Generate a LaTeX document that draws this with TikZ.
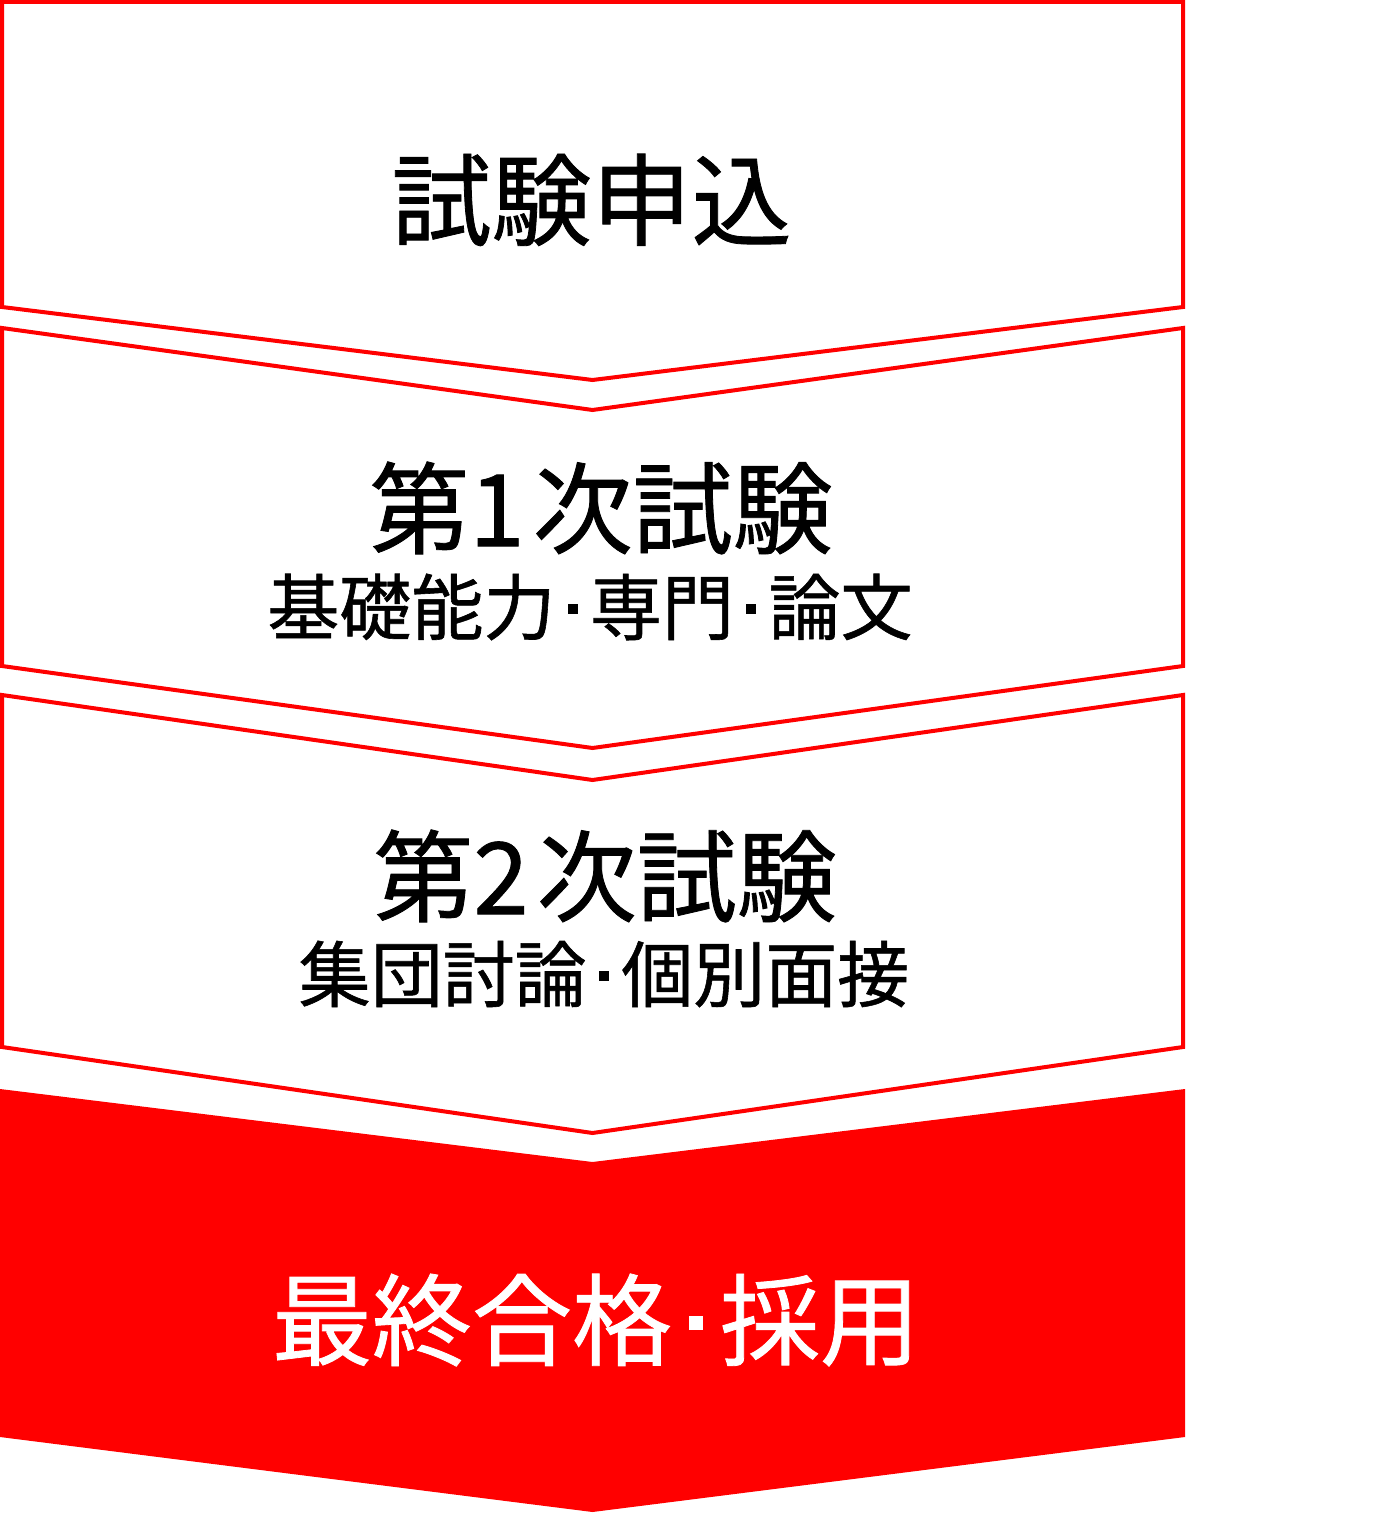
\documentclass[tikz,border=0pt]{standalone}
\usepackage{fontspec}
\newfontfamily\jp[FakeBold=0.8]{Noto Sans CJK JP}
\definecolor{flowred}{RGB}{255,0,0}
\newcommand{\nakaguro}{\hspace{0.17em}\rule[0.28em]{0.14em}{0.14em}\hspace{0.17em}}

\begin{document}
\begin{tikzpicture}[x=0.5pt, y=-0.5pt,
    stage/.style={draw=flowred, line width=2pt, fill=white},
    title/.style={font=\jp\fontsize{50}{56}\selectfont, inner sep=0pt},
    subtitle/.style={font=\jp\fontsize{36}{40}\selectfont, inner sep=0pt}]
    \useasboundingbox (0, 0) rectangle (1377, 1513);

    % First stage: flat top
    \draw[stage] (2, 2) -- (1183, 2) -- (1183, 307) -- (592.5, 380) -- (2, 307) -- cycle;

    % Middle stages
    \foreach \t/\tt/\b/\bt in {328/410/666/748, 695/780/1047/1133} {
        \draw[stage] (2, \t) -- (592.5, \tt) -- (1183, \t) -- (1183, \b) -- (592.5, \bt) -- (2, \b) -- cycle;
    }

    % Final stage
    \fill[flowred] (0, 1089) -- (592.5, 1162) -- (1185, 1089) -- (1185, 1437) -- (592.5, 1512) -- (0, 1437) -- cycle;

    \node[title] (apply) at (591.5, 200) {試験申込};
    \node[title] (first) at (601, 508) {第1\kern0.08em 次試験};
    \node[subtitle] (firstsub) at (590, 607) {基礎能力\nakaguro 専門\nakaguro 論文};
    \node[title] (second) at (605, 876) {第2\kern0.08em 次試験};
    \node[subtitle] (secondsub) at (604, 974) {集団討論\nakaguro 個別面接};
    \node[title, text=white] (final) at (596, 1320) {最終合格\nakaguro 採用};
\end{tikzpicture}
\end{document}
